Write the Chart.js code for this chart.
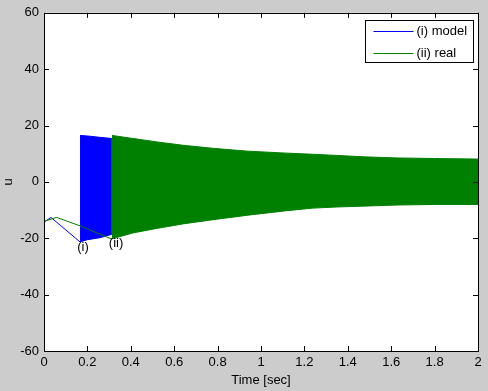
<!DOCTYPE html>
<html>
<head>
<meta charset="utf-8">
<script src="https://cdn.jsdelivr.net/npm/chart.js@4"></script>
<style>
  body { margin: 0; background: #cccccc; }
  #wrap { position: relative; width: 488px; height: 391px; }
  #plotbg { position: absolute; background: #ffffff; z-index: 0; }
  canvas { display: block; position: relative; z-index: 1; }
</style>
</head>
<body>
<div id="wrap">
  <div id="plotbg"></div>
  <canvas id="chart" width="488" height="391"></canvas>
</div>
<script>
// (i) model: start-up line, then the fast oscillation drawn as its envelope
var modelT = [0, 0.032, 0.166];
var modelU = [-14.3, -12.6, -21.3];
var modelBandT = [0.166, 0.2, 0.258, 0.313];
var modelTop = [16.5, 16.3, 15.8, 15.4];
var modelBottom = [-21.3, -20.5, -19.8, -18.6];

// (ii) real
var realT = [0, 0.058, 0.166, 0.313];
var realU = [-14.0, -12.6, -15.6, -20.3];
var realBandT = [0.313, 0.41, 0.52, 0.64, 0.78, 0.94, 1.12, 1.24, 1.35, 1.47, 1.63, 1.80, 2.0];
var realTop = [16.5, 15.4, 14.2, 13.0, 11.9, 10.9, 10.2, 9.8, 9.4, 8.9, 8.5, 8.3, 8.1];
var realBottom = [-20.2, -18.1, -16.5, -14.9, -13.4, -11.8, -10.2, -9.3, -8.9, -8.6, -8.2, -8.0, -8.0];

var legendLabels = ['(i) model', '(ii) real'];
var noteText = ['(i)', '(ii)'];
var noteT = [0.18, 0.332];
var noteU = [-23.2, -21.8];

var BLUE = 'rgb(0,0,255)';
var GREEN = 'rgb(0,128,0)';
var FONT = "'Liberation Sans', Arial, sans-serif";

function pts(xs, ys) {
  return xs.map(function (x, i) { return { x: x, y: ys[i] }; });
}

var boxPlugin = {
  id: 'matlabBox',
  beforeDatasetsDraw: function (chart) {
    var ctx = chart.ctx, a = chart.chartArea;
    ctx.save();
    ctx.fillStyle = 'rgb(255,255,255)';
    ctx.fillRect(a.left, a.top, a.right - a.left, a.bottom - a.top);
    ctx.restore();
  },
  afterDraw: function (chart) {
    var ctx = chart.ctx;
    var a = chart.chartArea;
    var xs = chart.scales.x, ys = chart.scales.y;
    ctx.save();

    // annotations
    ctx.fillStyle = '#000';
    ctx.font = '13px ' + FONT;
    ctx.textAlign = 'center';
    ctx.textBaseline = 'middle';
    for (var i = 0; i < noteText.length; i++) {
      ctx.fillText(noteText[i], xs.getPixelForValue(noteT[i]), ys.getPixelForValue(noteU[i]));
    }

    // axes box and inward ticks
    ctx.strokeStyle = '#000';
    ctx.lineWidth = 1;
    ctx.beginPath();
    xs.ticks.forEach(function (t) {
      var px = Math.round(xs.getPixelForValue(t.value)) + 0.5;
      ctx.moveTo(px, a.bottom); ctx.lineTo(px, a.bottom - 5);
      ctx.moveTo(px, a.top); ctx.lineTo(px, a.top + 5);
    });
    ys.ticks.forEach(function (t) {
      var py = Math.round(ys.getPixelForValue(t.value)) + 0.5;
      ctx.moveTo(a.left, py); ctx.lineTo(a.left + 5, py);
      ctx.moveTo(a.right, py); ctx.lineTo(a.right - 5, py);
    });
    ctx.stroke();
    ctx.strokeRect(Math.round(a.left) + 0.5, Math.round(a.top) + 0.5,
      Math.round(a.right - a.left), Math.round(a.bottom - a.top));

    // legend box
    var bw = 108, bh = 42;
    var bx = Math.round(a.right - 5 - bw) + 0.5, by = Math.round(a.top + 7) + 0.5;
    ctx.fillStyle = 'rgb(255,255,255)';
    ctx.fillRect(bx, by, bw, bh);
    ctx.strokeStyle = '#000';
    ctx.strokeRect(bx, by, bw, bh);
    var colors = [BLUE, GREEN];
    ctx.textAlign = 'left';
    for (var j = 0; j < legendLabels.length; j++) {
      var ly = Math.round(by + 10.5 + j * 21.5) + 0.5;
      ctx.fillStyle = colors[j];
      ctx.fillRect(bx + 8, ly - 0.5, 40, 1);
      ctx.fillStyle = '#000';
      ctx.fillText(legendLabels[j], bx + 51, ly);
    }
    ctx.restore();
  }
};

var chart = new Chart(document.getElementById('chart'), {
  type: 'line',
  data: {
    datasets: [
      { label: legendLabels[0], data: pts(modelT, modelU), borderColor: BLUE, borderWidth: 1, fill: false, order: 1 },
      { data: pts(modelBandT, modelTop), borderColor: BLUE, borderWidth: 1, fill: false, order: 1 },
      { data: pts(modelBandT, modelBottom), borderColor: BLUE, borderWidth: 1, backgroundColor: BLUE, fill: 1, order: 1 },
      { label: legendLabels[1], data: pts(realT, realU), borderColor: GREEN, borderWidth: 1, fill: false, order: 0 },
      { data: pts(realBandT, realTop), borderColor: GREEN, borderWidth: 1, fill: false, order: 0 },
      { data: pts(realBandT, realBottom), borderColor: GREEN, borderWidth: 1, backgroundColor: GREEN, fill: 4, order: 0 }
    ]
  },
  options: {
    responsive: false,
    animation: false,
    elements: { point: { radius: 0 }, line: { tension: 0 } },
    layout: { padding: { left: 0, top: 9, right: 10, bottom: 0 } },
    plugins: { legend: { display: false }, tooltip: { enabled: false } },
    scales: {
      x: {
        type: 'linear', min: 0, max: 2,
        grid: { display: false, drawTicks: false },
        border: { display: false },
        ticks: { stepSize: 0.2, color: '#000', padding: 4, font: { family: FONT, size: 13 }, maxRotation: 0,
          callback: function (v) { return Math.round(v * 10) / 10; } },
        title: { display: true, text: 'Time [sec]', color: '#000', font: { family: FONT, size: 13 }, padding: { top: 0, bottom: 3 } },
        afterFit: function (s) { s.height = 40; }
      },
      y: {
        min: -60, max: 60,
        grid: { display: false, drawTicks: false },
        border: { display: false },
        ticks: { stepSize: 20, color: '#000', padding: 5, font: { family: FONT, size: 13 } },
        title: { display: true, text: 'u', color: '#000', font: { family: FONT, size: 13 }, padding: { top: 1, bottom: 0 } },
        afterFit: function (s) { s.width = 44; }
      }
    }
  },
  plugins: [boxPlugin]
});

// white axes background behind the canvas, placed from the chart area
var area = chart.chartArea;
var bg = document.getElementById('plotbg');
bg.style.left = area.left + 'px';
bg.style.top = area.top + 'px';
bg.style.width = (area.right - area.left) + 'px';
bg.style.height = (area.bottom - area.top) + 'px';
</script>
</body>
</html>
